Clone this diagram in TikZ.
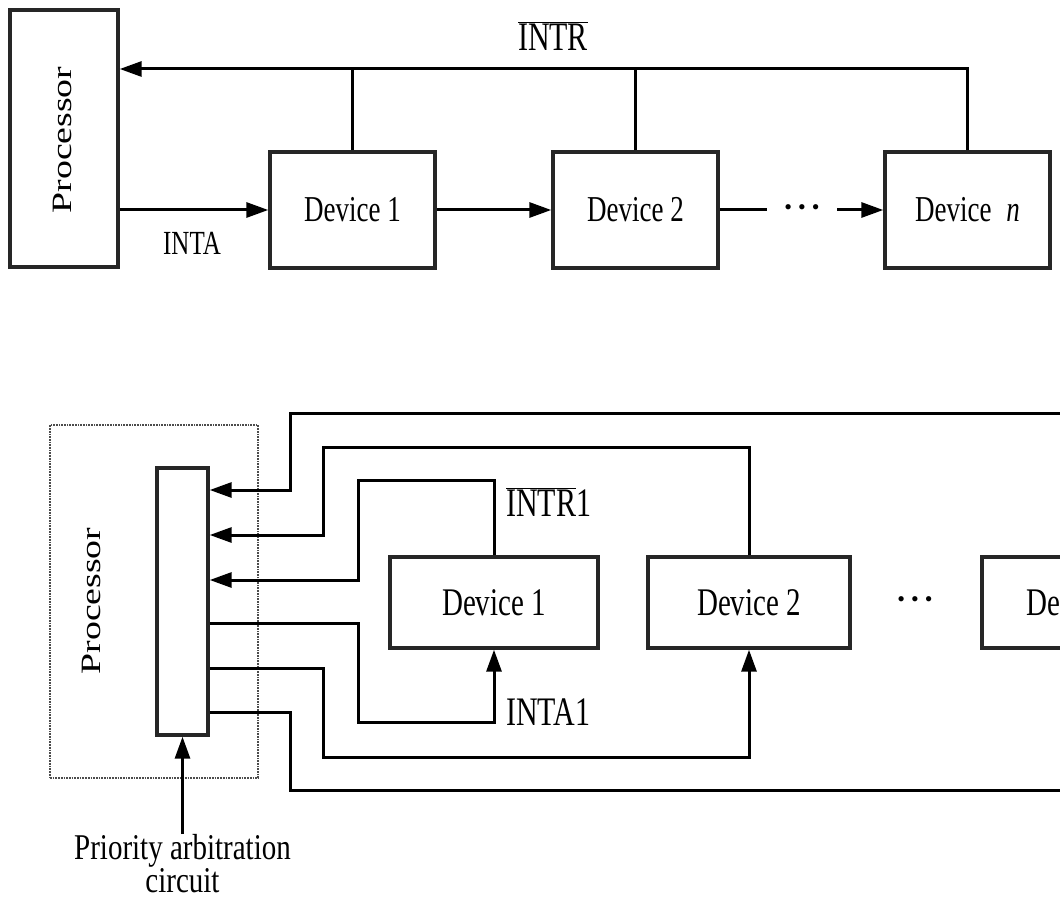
\documentclass[tikz,border=0pt]{standalone}
\usepackage{fontspec}
\setmainfont{Liberation Serif}
\usepackage{graphicx}
\usetikzlibrary{arrows.meta}
\newcommand\vstr[1]{\scalebox{1}[1.35]{#1}}
\newcommand\mydots{\fontsize{22}{24}\selectfont\textbullet\hspace{6pt}\textbullet\hspace{6pt}\textbullet}
\tikzset{
  box/.style={draw=black!85, line width=3.4pt, minimum width=165pt, minimum height=116pt, inner sep=0pt, font=\fontsize{27}{30}\selectfont},
  boxb/.style={box, minimum width=208pt, minimum height=91pt, font=\fontsize{29}{32}\selectfont},
  outer/.style={draw=black!70, line width=1.7pt, densely dotted, minimum width=208pt, minimum height=353pt, inner sep=0pt},
  wire/.style={line width=3pt, black},
  arr/.style={wire, -{Triangle[length=22pt,width=15pt]}},
  lbl/.style={inner sep=1pt, font=\fontsize{#1}{#1}\selectfont},
  lbl/.default=27,
  dotsn/.style={inner sep=0pt, minimum width=70pt}
}
\begin{document}
\begin{tikzpicture}[x=1pt,y=-1pt]
\useasboundingbox (0,0) rectangle (1060,901);
\clip (0,0) rectangle (1060,901);
% ---------- top diagram ----------
\node[box, minimum width=108pt, minimum height=257pt] (p1) at (64,138.5) {};
\node[lbl=28, rotate=90] (p1t) at (62,140) {\scalebox{1.35}[1]{Processor}};
\node[box] (d1) at (352.5,210) {\vstr{Device 1}};
\node[box] (d2) at (635.5,210) {\vstr{Device 2}};
\node[box] (dn) at (967.5,210) {\vstr{Device\hspace{.55em}\textit{n}}};
\coordinate (intr) at (0,69);
\draw[arr] (dn.north) |- (p1.east |- intr);
\draw[wire] (d1.north) -- (d1.north |- intr);
\draw[wire] (d2.north) -- (d2.north |- intr);
\node[lbl=30] (intrl) at (553,36) {\vstr{$\overline{\mbox{INTR}}$}};
\draw[arr] (p1.east |- d1.west) -- (d1.west);
\node[lbl=25] (inta) at (192,243) {\vstr{INTA}};
\draw[arr] (d1.east) -- (d2.west);
\node[dotsn] (dots1) at (802,210) {\mydots};
\draw[wire] (d2.east) -- (dots1.west);
\draw[arr] (dots1.east) -- (dn.west);
% ---------- bottom diagram ----------
\node[outer] (p2) at (154,601.5) {};
\node[lbl=28, rotate=90] (p2t) at (91,601) {\scalebox{1.35}[1]{Processor}};
\node[box, minimum width=51pt, minimum height=267pt] (arb) at (182.5,601.5) {};
\node[boxb] (e1) at (494,602.5) {\vstr{Device 1}};
\node[boxb, minimum width=202pt] (e2) at (749,602.5) {\vstr{Device 2}};
\node[boxb, minimum width=202pt] (en) at (1083,602.5) {\vstr{Device\hspace{.55em}\textit{n}}};
\node[dotsn] (dots2) at (915,602) {\mydots};
\coordinate (ra) at (1100,413);
\coordinate (rb) at (1100,790);
\coordinate (y1) at (0,490);
\coordinate (y2) at (0,535);
\coordinate (y3) at (0,580);
\coordinate (y4) at (0,623);
\coordinate (y5) at (0,668);
\coordinate (y6) at (0,712);
\draw[arr] (ra) -| (290,490) -- (arb.east |- y1);
\draw[arr] (e2.north) |- (323,447) |- (arb.east |- y2);
\draw[arr] (e1.north) |- (358,480) |- (arb.east |- y3);
\draw[arr] (arb.east |- y4) -| (358,722) -| (e1.south);
\draw[arr] (arb.east |- y5) -| (323,757) -| (e2.south);
\draw[wire] (arb.east |- y6) -| (290,790) -- (rb);
\node[lbl=30, anchor=west] (intr1) at (505,502) {\vstr{$\overline{\mbox{INTR}}$1}};
\node[lbl=30, anchor=west] (inta1) at (505,712) {\vstr{INTA1}};
\node[lbl=29, anchor=north, inner sep=0pt] (prio) at (182.5,834)
  {\scalebox{1}[1.25]{\fontsize{29}{25}\selectfont\begin{tabular}{@{}c@{}}Priority arbitration\\circuit\end{tabular}}};
\draw[arr] (prio.north) -- (arb.south);
\end{tikzpicture}
\end{document}
